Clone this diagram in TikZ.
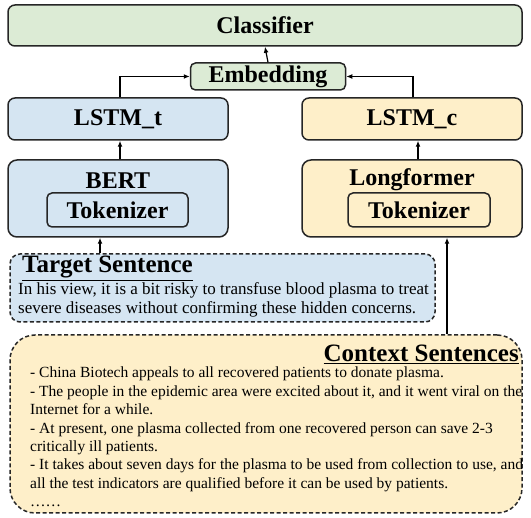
\documentclass[tikz,border=0pt]{standalone}
\usepackage{fontspec}
\setmainfont{Liberation Serif}
\usetikzlibrary{arrows.meta}
\definecolor{cgreen}{HTML}{DCEBD5}
\definecolor{cblue}{HTML}{D5E5F2}
\definecolor{cyellow}{HTML}{FEEFC9}
\definecolor{bordc}{HTML}{262626}
\begin{document}
\begin{tikzpicture}[x=1pt,y=-1pt,
  box/.style={draw=bordc, line width=1.5pt, rounded corners=7pt, inner sep=0pt},
  head/.style={font=\fontsize{24}{28}\selectfont\bfseries, inner sep=0pt},
  dbox/.style={draw=bordc, line width=1.5pt, dash pattern=on 4pt off 2.5pt, inner sep=0pt},
  body/.style={font=\fontsize{17}{18.5}\selectfont, inner sep=0pt, anchor=base west},
  cbody/.style={font=\fontsize{15.5}{18.5}\selectfont, inner sep=0pt, anchor=base west},
  arr/.style={draw=black, line width=1.2pt, -{Latex[length=6pt,width=5pt]}}]
\useasboundingbox (0,0) rectangle (531,518);
% top
\node[box, head, fill=cgreen, minimum width=514pt, minimum height=41pt] (cls) at (265,25.5) {Classifier};
\node[box, head, fill=cgreen, minimum width=155pt, minimum height=27pt, rounded corners=5pt] (emb) at (268,76.5) {Embedding};
\node[box, head, fill=cblue, minimum width=220pt, minimum height=42pt] (lt) at (118,119) {LSTM\_t};
\node[box, head, fill=cyellow, minimum width=220pt, minimum height=42pt] (lc) at (412,119) {LSTM\_c};
% encoders
\node[box, fill=cblue, minimum width=220pt, minimum height=77pt, rounded corners=9pt] (bert) at (118,198.5) {};
\node[head] (berttxt) at (118,181) {BERT};
\node[box, head, fill=cblue, minimum width=141pt, minimum height=34pt, rounded corners=5pt] (btok) at (117.5,210) {Tokenizer};
\node[box, fill=cyellow, minimum width=220pt, minimum height=77pt, rounded corners=9pt] (lf) at (412,198.5) {};
\node[head] (lftxt) at (412,180) {Longformer};
\node[box, head, fill=cyellow, minimum width=142pt, minimum height=34pt, rounded corners=5pt] (ltok) at (419,210) {Tokenizer};
% target
\node[dbox, fill=cblue, minimum width=425pt, minimum height=68pt, rounded corners=10pt] (tgt) at (222.5,288) {};
\node[head, anchor=base west, font=\fontsize{25}{28}\selectfont\bfseries] (tgth) at (22,273) {\underline{Target Sentence}};
\node[body] (t1) at (18,295) {In his view, it is a bit risky to transfuse blood plasma to treat};
\node[body] (t2) at (18,313.5) {severe diseases without confirming these hidden concerns.};
% context
\node[dbox, fill=cyellow, minimum width=512pt, minimum height=178pt, rounded corners=25pt] (ctx) at (266,424) {};
\node[head, anchor=base east, font=\fontsize{25}{28}\selectfont\bfseries] (ctxh) at (519,362) {\underline{Context Sentences}};
\node[cbody] (c1) at (30,378) {- China Biotech appeals to all recovered patients to donate plasma.};
\node[cbody] (c2) at (30,396.4) {- The people in the epidemic area were excited about it, and it went viral on the};
\node[cbody] (c3) at (30,414.8) {Internet for a while.};
\node[cbody] (c4) at (30,433.2) {- At present, one plasma collected from one recovered person can save 2-3};
\node[cbody] (c5) at (30,451.6) {critically ill patients.};
\node[cbody] (c6) at (30,470) {- It takes about seven days for the plasma to be used from collection to use, and};
\node[cbody] (c7) at (30,488.4) {all the test indicators are qualified before it can be used by patients.};
\node[cbody] (c8) at (30,506.8) {……};
% arrows
\draw[arr] (emb.north) -- (cls.south);
\draw[arr] ([xshift=2pt]lt.north) |- (emb.west);
\draw[arr] ([xshift=1pt]lc.north) |- (emb.east);
\draw[arr] ([xshift=2pt]bert.north) -- ([xshift=2pt]lt.south);
\draw[arr] ([xshift=6pt]lf.north) -- ([xshift=6pt]lc.south);
\draw[arr] ([xshift=-18pt]bert.south |- tgt.north) -- ([xshift=-18pt]bert.south);
\draw[arr] ([xshift=35pt]lf.south |- ctx.north) -- ([xshift=35pt]lf.south);
\end{tikzpicture}
\end{document}
